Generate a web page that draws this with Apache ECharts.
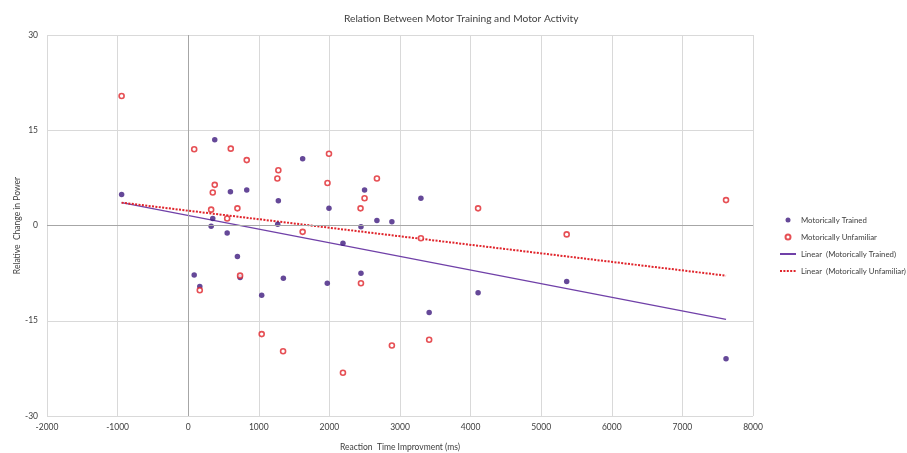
<!DOCTYPE html>
<html>
<head>
<meta charset="utf-8">
<script src="https://cdn.jsdelivr.net/npm/echarts@6/dist/echarts.min.js"></script>
<style>html,body{margin:0;padding:0;background:#fff;}#c{width:907px;height:453px;}</style>
</head>
<body>
<div id="c"></div>
<script>
// Motorically Trained: [reaction time improvement (ms), relative change in power]
const trainedData = [
  [-943, 4.9], [376, 13.5], [598, 5.3], [829, 5.6], [1277, 3.9], [348, 1.1],
  [325, -0.1], [552, -1.2], [697, -4.9], [85, -7.8], [164, -9.6], [735, -8.2],
  [1348, -8.3], [1041, -11.0], [1268, 0.2], [1621, 10.5], [2498, 5.6], [3296, 4.3],
  [1994, 2.7], [2447, -0.2], [2673, 0.8], [2885, 0.6], [2192, -2.8], [2447, -7.5],
  [1970, -9.1], [4106, -10.6], [3413, -13.7], [5361, -8.8], [7618, -21.0]
];
// Motorically Unfamiliar
const unfamiliarData = [
  [-943, 20.4], [85, 12.0], [603, 12.1], [829, 10.3], [1277, 8.7], [1263, 7.4],
  [376, 6.4], [348, 5.2], [325, 2.5], [697, 2.7], [552, 1.1], [1994, 11.3],
  [1973, 6.7], [2673, 7.4], [2498, 4.3], [2441, 2.7], [4106, 2.7], [1621, -1.0],
  [3296, -2.0], [5361, -1.4], [2447, -9.1], [1344, -19.8], [2192, -23.2],
  [2885, -18.9], [3413, -18.0], [164, -10.2], [735, -7.9], [1041, -17.1], [7618, 4.0]
];
// Linear trend lines (endpoints)
const trendTrained = [[-943, 3.6], [7618, -14.8]];
const trendUnfamiliar = [[-943, 3.6], [7618, -7.9]];

const xTicks = { min: -2000, max: 8000, interval: 1000 };
const yTicks = { min: -30, max: 30, interval: 15 };

const names = ['Motorically Trained', 'Motorically Unfamiliar',
  'Linear  (Motorically Trained)', 'Linear  (Motorically Unfamiliar)'];

const purple = '#3f1a7e';
const red = '#e0242b';
const trendPurple = '#7040a8';
const font = 'Lato, "Open Sans", sans-serif';
const chart = echarts.init(document.getElementById('c'), null, { renderer: 'canvas' });
chart.setOption({
  animation: false,
  backgroundColor: '#ffffff',
  title: {
    text: 'Relation Between Motor Training and Motor Activity',
    left: 339, top: 9,
    textStyle: { fontFamily: font, fontSize: 10.2, fontWeight: 'normal', color: '#404040' }
  },
  legend: {
    orient: 'vertical', left: 774, top: 211,
    itemWidth: 16, itemHeight: 5, itemGap: 9,
    textStyle: { fontFamily: font, fontSize: 7.8, color: '#404040' },
    data: [
      { name: names[0], icon: 'circle' },
      { name: names[1], icon: 'circle' },
      { name: names[2], itemStyle: { opacity: 0 } },
      { name: names[3], itemStyle: { opacity: 0 } }
    ]
  },
  grid: { left: 47, right: 154, top: 35, bottom: 37, containLabel: false, outerBoundsMode: 'none' },
  xAxis: {
    type: 'value', min: xTicks.min, max: xTicks.max, interval: xTicks.interval,
    name: 'Reaction  Time Improvment (ms)', nameLocation: 'middle', nameGap: 27,
    nameMoveOverlap: false,
    nameTextStyle: { fontFamily: font, fontSize: 8.5, color: '#404040' },
    axisLine: { show: false }, axisTick: { show: false },
    axisLabel: { fontFamily: font, fontSize: 8.5, color: '#404040', margin: 7,
      formatter: v => String(v) },
    splitLine: { show: true, lineStyle: { color: '#d9d9d9', width: 1 } }
  },
  yAxis: {
    type: 'value', min: yTicks.min, max: yTicks.max, interval: yTicks.interval,
    name: 'Relative  Change in Power', nameLocation: 'middle', nameGap: 25,
    nameMoveOverlap: false,
    nameTextStyle: { fontFamily: font, fontSize: 8.5, color: '#404040' },
    axisLine: { show: false }, axisTick: { show: false },
    axisLabel: { fontFamily: font, fontSize: 8.5, color: '#404040', margin: 9 },
    splitLine: { show: true, lineStyle: { color: '#d9d9d9', width: 1 } }
  },
  series: [
    {
      name: names[0], type: 'scatter', data: trainedData, symbol: 'circle', symbolSize: 5.5,
      itemStyle: { color: purple }, z: 4,
      markLine: {
        silent: true, symbol: 'none', label: { show: false },
        lineStyle: { color: '#a6a6a6', type: 'solid', width: 1 },
        data: [{ xAxis: 0 }, { yAxis: 0 }]
      }
    },
    {
      name: names[1], type: 'scatter', data: unfamiliarData, symbol: 'circle', symbolSize: 5,
      itemStyle: { color: '#ffffff', borderColor: red, borderWidth: 1.6 }, z: 5
    },
    {
      name: names[2], type: 'line', data: trendTrained, symbol: 'none',
      itemStyle: { color: trendPurple },
      lineStyle: { color: trendPurple, width: 1.3, type: 'solid' }, z: 3
    },
    {
      name: names[3], type: 'line', data: trendUnfamiliar, symbol: 'none',
      itemStyle: { color: red },
      lineStyle: { color: red, width: 2, type: [2, 1.4] }, z: 3
    }
  ]
});
</script>
</body>
</html>
